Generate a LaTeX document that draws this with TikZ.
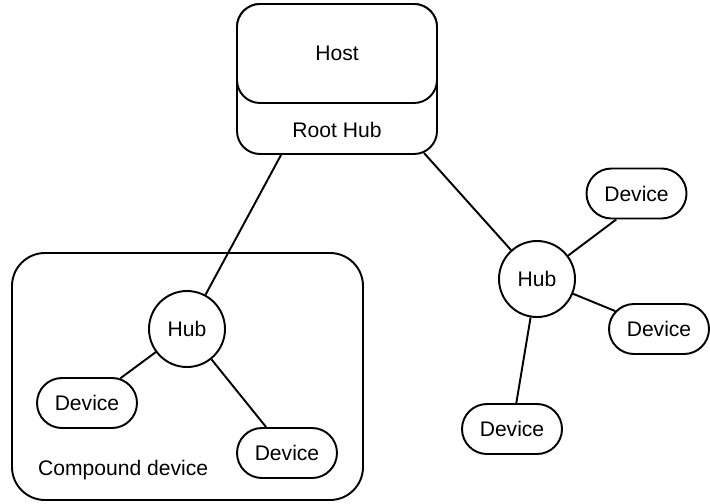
\documentclass[tikz,border=0pt]{standalone}
\usepackage{fontspec}
\setmainfont{Liberation Sans}
\usepackage{tikz}
\usetikzlibrary{shapes.misc, positioning, calc}
\tikzstyle{hostbox} = [draw, rounded corners=0.46cm, minimum width=4cm, fill=white, line width=1.1pt]
\tikzstyle{hub} = [circle, draw, minimum size=1.52cm, inner sep=0pt, line width=1.1pt]
\tikzstyle{device} = [rounded rectangle, draw, minimum width=2cm, minimum height=1cm, inner sep=0pt, line width=1.1pt]
\tikzstyle{link} = [line width=1.1pt]

\begin{document}
\begin{tikzpicture}[font=\fontsize{12}{14}\selectfont]
    \useasboundingbox (0,0) rectangle (14.2,10.06);

    % Host and root hub
    \node[hostbox, minimum height=3cm] (root) at (6.74,8.48) {};
    \node[hostbox, minimum height=1.98cm, anchor=north] (host) at (root.north) {Host};
    \node (roothub) at ($(host.south)!0.5!(root.south)$) {Root Hub};
    \coordinate (rootL) at ($(root.south west)+(0.9,0)$);
    \coordinate (rootR) at ($(root.south east)+(-0.28,0.04)$);

    % Compound device
    \node[draw, rounded corners=0.66cm, minimum width=7.02cm, minimum height=4.94cm, line width=1.1pt] (compound) at (3.75,2.53) {};
    \node[anchor=west] (compoundlabel) at (0.64,0.66) {Compound device};
    \node[hub] (hubA) at (3.74,3.48) {Hub};
    \node[device] (devA1) at (1.74,2.0) {Device};
    \node[device] (devA2) at (5.74,1.0) {Device};

    % Stand-alone hub
    \node[hub] (hubB) at (10.74,4.48) {Hub};
    \node[device] (devB1) at (12.73,6.19) {Device};
    \node[device] (devB2) at (13.18,3.48) {Device};
    \node[device] (devB3) at (10.24,1.48) {Device};

    % Cables
    \draw[link] (hubA) -- (rootL);
    \draw[link] (hubB) -- (rootR);
    \draw[link] (hubA) -- (devA1);
    \draw[link] (hubA) -- (devA2);
    \draw[link] (hubB) -- (devB1.232);
    \draw[link] (hubB) -- (devB2);
    \draw[link] (hubB) -- (devB3);
\end{tikzpicture}
\end{document}
